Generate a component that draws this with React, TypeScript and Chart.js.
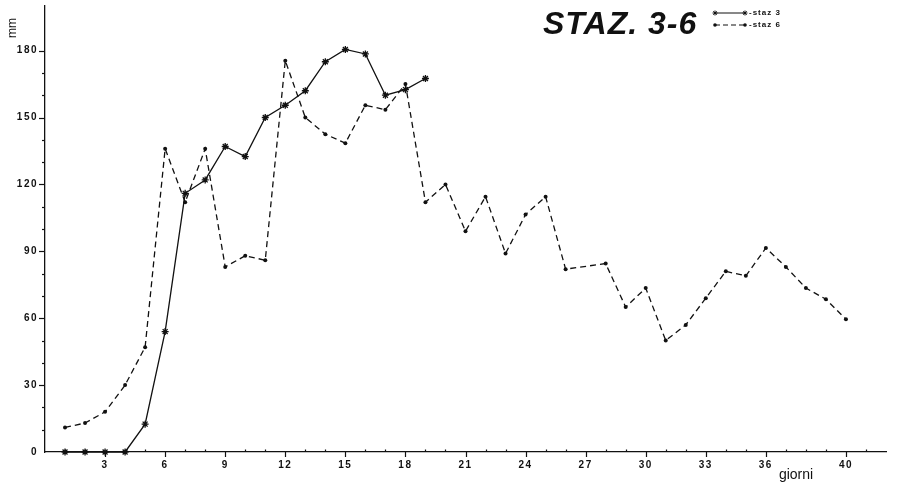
import React, { useEffect, useRef } from "react";
import { Chart, registerables } from "chart.js";

Chart.register(...registerables);

// ---- data ----
const days3 = [1, 2, 3, 4, 5, 6, 7, 8, 9, 10, 11, 12, 13, 14, 15, 16, 17, 18, 19];
const staz3 = [0, 0, 0, 0, 12.5, 54, 116, 122, 137, 132.5, 150, 155.5, 162, 175, 180.5, 178.5, 160, 162.5, 167.5];

const days6 = [1, 2, 3, 4, 5, 6, 7, 8, 9, 10, 11, 12, 13, 14, 15, 16, 17, 18, 19, 20, 21, 22, 23, 24, 25, 26, 28, 29, 30, 31, 32, 33, 34, 35, 36, 37, 38, 39, 40];
const staz6 = [11, 13, 18, 30, 47, 136, 112, 136, 83, 88, 86, 175.5, 150, 142.5, 138.5, 155.5, 153.5, 165, 112, 120, 99, 114.5, 89, 106.5, 114.5, 82, 84.5, 65, 73.5, 50, 57, 69, 81, 79, 91.5, 83, 73.5, 68.5, 59.5];

const xTickLabels = [3, 6, 9, 12, 15, 18, 21, 24, 27, 30, 33, 36, 40];
const yTickLabels = [0, 30, 60, 90, 120, 150, 180];
const yMinorTicks = [10, 20, 30, 40, 50, 60, 70, 80, 90, 100, 110, 120, 130, 140, 150, 160, 170, 180];
const xMinorTicks = [1, 2, 3, 4, 5, 6, 7, 8, 9, 10, 11, 12, 13, 14, 15, 16, 17, 18, 19, 20, 21, 22, 23, 24, 25, 26, 27, 28, 29, 30, 31, 32, 33, 34, 35, 36, 37, 38, 39, 40, 41];

const titleText = "STAZ. 3-6";
const legendLabels = ["staz 3", "staz 6"];
const xTitle = "giorni";
const yTitle = "mm";

const FONT = '"Liberation Sans", Arial, sans-serif';
const INK = "#111";

function drawStar(ctx: CanvasRenderingContext2D, x: number, y: number, r: number) {
  ctx.beginPath();
  ctx.moveTo(x - r, y); ctx.lineTo(x + r, y);
  ctx.moveTo(x, y - r); ctx.lineTo(x, y + r);
  const d = r * 0.7;
  ctx.moveTo(x - d, y - d); ctx.lineTo(x + d, y + d);
  ctx.moveTo(x - d, y + d); ctx.lineTo(x + d, y - d);
  ctx.stroke();
}

const decoPlugin = {
  id: "deco",
  beforeDraw(chart: any) {
    chart.ctx.letterSpacing = "1.5px";
  },
  afterDraw(chart: any) {
    const ctx: CanvasRenderingContext2D = chart.ctx;
    ctx.save();
    (ctx as any).letterSpacing = "0px";
    const xs = chart.scales.x;
    const ys = chart.scales.y;
    ctx.strokeStyle = INK;
    ctx.lineWidth = 1.2;
    ctx.setLineDash([]);
    // y ticks
    const ax = xs.left;
    yMinorTicks.forEach((v) => {
      const py = Math.round(ys.getPixelForValue(v)) + 0.5;
      const len = v % 30 === 0 ? 6 : 3;
      ctx.beginPath();
      ctx.moveTo(ax - len, py);
      ctx.lineTo(ax, py);
      ctx.stroke();
    });
    // x ticks
    const ay = ys.bottom;
    xMinorTicks.forEach((d) => {
      const px = Math.round(xs.getPixelForValue(d)) + 0.5;
      ctx.beginPath();
      if (xTickLabels.includes(d)) {
        ctx.moveTo(px, ay);
        ctx.lineTo(px, ay + 5);
      } else {
        ctx.moveTo(px, ay - 2.5);
        ctx.lineTo(px, ay);
      }
      ctx.stroke();
    });

    // title
    ctx.fillStyle = INK;
    ctx.textAlign = "left";
    ctx.textBaseline = "alphabetic";
    ctx.font = `italic bold 32px ${FONT}`;
    (ctx as any).letterSpacing = "1px";
    ctx.fillText(titleText, 543, 34);
    (ctx as any).letterSpacing = "0px";

    // legend
    const lx0 = 715, lx1 = 745;
    const rows = [13, 25];
    ctx.lineWidth = 1;
    // staz 3
    ctx.beginPath();
    ctx.moveTo(lx0, rows[0]); ctx.lineTo(lx1, rows[0]); ctx.stroke();
    drawStar(ctx, lx0, rows[0], 2.5);
    drawStar(ctx, lx1, rows[0], 2.5);
    // staz 6
    ctx.setLineDash([5, 3]);
    ctx.beginPath();
    ctx.moveTo(lx0, rows[1]); ctx.lineTo(lx1, rows[1]); ctx.stroke();
    ctx.setLineDash([]);
    [lx0, lx1].forEach((x) => {
      ctx.beginPath(); ctx.arc(x, rows[1], 1.8, 0, Math.PI * 2); ctx.fill();
    });
    ctx.font = `bold 8px ${FONT}`;
    (ctx as any).letterSpacing = "1px";
    ctx.textBaseline = "middle";
    ctx.fillText("-" + legendLabels[0], 749, rows[0]);
    ctx.fillText("-" + legendLabels[1], 749, rows[1]);
    (ctx as any).letterSpacing = "0px";

    // axis titles
    ctx.font = `14px ${FONT}`;
    ctx.textAlign = "center";
    ctx.textBaseline = "alphabetic";
    ctx.fillText(xTitle, 796, 479);

    ctx.save();
    ctx.translate(16, 28);
    ctx.rotate(-Math.PI / 2);
    ctx.font = `12px ${FONT}`;
    ctx.textAlign = "center";
    ctx.textBaseline = "alphabetic";
    ctx.fillText(yTitle, 0, 0);
    ctx.restore();

    ctx.restore();
  },
};

export default function App() {
  const canvasRef = useRef<HTMLCanvasElement | null>(null);

  useEffect(() => {
    const canvas = canvasRef.current;
    if (!canvas) return;
    const chart = new Chart(canvas, {
      type: "line",
      data: {
        datasets: [
          {
            label: legendLabels[0],
            data: days3.map((d, i) => ({ x: d, y: staz3[i] })),
            borderColor: INK,
            backgroundColor: INK,
            borderWidth: 1.3,
            pointStyle: "star",
            pointRadius: 3.5,
            pointBorderWidth: 1.3,
            pointBorderColor: INK,
            tension: 0,
            clip: false as any,
          },
          {
            label: legendLabels[1],
            data: days6.map((d, i) => ({ x: d, y: staz6[i] })),
            borderColor: INK,
            backgroundColor: INK,
            borderWidth: 1.3,
            borderDash: [6, 4],
            pointStyle: "circle",
            pointRadius: 2,
            pointBorderWidth: 0,
            tension: 0,
            clip: false as any,
          },
        ],
      },
      options: {
        responsive: false,
        animation: false,
        layout: { padding: { top: 6, right: 11, left: 0, bottom: 0 } },
        plugins: {
          legend: { display: false },
          title: { display: false },
          tooltip: { enabled: false },
        },
        scales: {
          x: {
            type: "linear",
            min: 0,
            max: 42,
            grid: { display: false, drawTicks: false },
            border: { display: true, color: INK, width: 1.3 },
            afterFit: (s: any) => { s.height = 30; s.paddingLeft = 0; s.paddingRight = 0; },
            afterBuildTicks: (s: any) => { s.ticks = xTickLabels.map((v) => ({ value: v })); },
            ticks: {
              color: INK,
              font: { family: FONT, size: 10, weight: "bold" },
              padding: 7,
              maxRotation: 0,
              autoSkip: false,
              callback: (v: any) => String(v),
            },
          },
          y: {
            type: "linear",
            min: 0,
            max: 200,
            grid: { display: false, drawTicks: false },
            border: { display: true, color: INK, width: 1.3 },
            afterFit: (s: any) => { s.width = 45; s.paddingTop = 0; s.paddingBottom = 0; },
            afterBuildTicks: (s: any) => { s.ticks = yTickLabels.map((v) => ({ value: v })); },
            ticks: {
              color: INK,
              font: { family: FONT, size: 10, weight: "bold" },
              padding: 7,
              autoSkip: false,
              callback: (v: any) => String(v),
            },
          },
        },
      },
      plugins: [decoPlugin],
    });
    return () => chart.destroy();
  }, []);

  return (
    <div style={{ position: "fixed", left: 0, top: 0, width: 897, height: 482, background: "#fff" }}>
      <canvas ref={canvasRef} width={897} height={482} />
    </div>
  );
}
